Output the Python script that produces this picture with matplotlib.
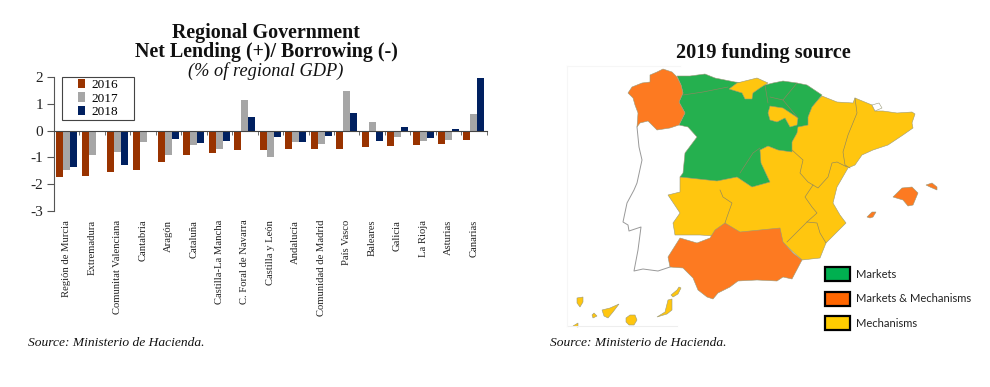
import numpy as np
import matplotlib
matplotlib.use('Agg')
import matplotlib.pyplot as plt
from matplotlib.patches import Polygon, Rectangle

regions = ['Región de Murcia', 'Extremadura', 'Comunitat Valenciana', 'Cantabria', 'Aragón', 'Cataluña',
           'Castilla-La Mancha', 'C. Foral de Navarra', 'Castilla y León', 'Andalucía', 'Comunidad de Madrid',
           'País Vasco', 'Baleares', 'Galicia', 'La Rioja', 'Asturias', 'Canarias']
y2016 = [-1.75, -1.70, -1.55, -1.48, -1.17, -0.90, -0.82, -0.73, -0.72, -0.70, -0.70, -0.67, -0.62, -0.58, -0.55, -0.48, -0.36]
y2017 = [-1.48, -0.90, -0.80, -0.43, -0.90, -0.55, -0.68, 1.15, -0.98, -0.42, -0.48, 1.48, 0.32, -0.23, -0.37, -0.33, 0.62]
y2018 = [-1.35, 0.0, -1.30, -0.05, -0.32, -0.45, -0.37, 0.52, -0.22, -0.42, -0.18, 0.67, -0.38, 0.15, -0.27, 0.05, 2.0]

# map outlines in pixels
yellow = [(822, 96), (837, 102), (853, 103), (855, 98), (872, 105), (875, 111), (883, 111), (897, 113), (912, 112),
          (915, 114), (912, 123), (913, 128), (903, 135), (888, 145), (873, 150), (862, 155), (855, 165), (848, 168),
          (837, 187), (833, 203), (840, 215), (846, 223), (832, 237), (826, 243), (820, 258), (802, 260), (780, 240),
          (700, 235), (675, 235), (673, 223), (680, 213), (668, 195), (680, 192), (680, 177), (770, 140)]
green = [(677, 76), (690, 76), (705, 74), (715, 78), (735, 82), (765, 85), (773, 83), (783, 81), (797, 83), (807, 85),
         (822, 95), (812, 107), (808, 117), (808, 125), (798, 127), (797, 133), (792, 142), (792, 152), (778, 150),
         (768, 146), (760, 150), (761, 163), (768, 178), (770, 182), (752, 187), (737, 177), (717, 181), (680, 177),
         (683, 173), (685, 153), (697, 137), (688, 127), (679, 125), (685, 113), (679, 102), (683, 93), (681, 85)]
galicia = [(650, 75), (657, 72), (663, 69), (672, 72), (677, 77), (681, 85), (683, 93), (679, 102), (685, 113), (679, 125),
           (670, 128), (657, 130), (652, 125), (648, 121), (640, 123), (637, 127), (638, 113), (635, 105), (633, 98),
           (628, 93), (632, 87), (642, 83), (650, 82)]
andalucia = [(680, 238), (697, 243), (710, 238), (715, 230), (725, 223), (740, 232), (760, 230), (780, 228), (783, 242),
             (793, 253), (802, 260), (792, 279), (783, 277), (777, 281), (757, 280), (738, 281), (730, 287), (718, 293),
             (713, 299), (707, 297), (698, 290), (693, 278), (683, 268), (670, 267), (668, 257)]
cantabria = [(729, 89), (737, 83), (757, 78), (768, 83), (760, 88), (753, 93), (752, 99), (745, 99), (742, 93)]
rioja = [(770, 106), (783, 108), (798, 118), (797, 125), (790, 127), (785, 118), (777, 122), (770, 120), (768, 113)]
andorra = [(872, 105), (879, 103), (882, 108), (875, 111)]
mallorca = [(893, 197), (902, 188), (912, 187), (918, 193), (913, 205), (908, 206), (903, 200)]
menorca = [(926, 185), (932, 183), (937, 187), (937, 190), (930, 187)]
ibiza = [(867, 217), (872, 212), (876, 212), (873, 217), (870, 218)]
la_palma = [(577, 298), (583, 297), (583, 302), (580, 307), (577, 303)]
hierro = [(573, 326), (578, 323), (578, 327)]
gomera = [(592, 315), (594, 313), (597, 316), (593, 318)]
tenerife = [(602, 310), (610, 308), (619, 304), (613, 312), (608, 318), (604, 316)]
gran_canaria = [(626, 318), (630, 315), (635, 315), (637, 320), (634, 325), (629, 325), (626, 322)]
fuerteventura = [(657, 317), (665, 312), (668, 300), (672, 299), (672, 310), (667, 314)]
lanzarote = [(671, 295), (677, 290), (679, 287), (681, 288), (678, 294), (673, 297)]
portugal = [(637, 127), (639, 147), (642, 160), (637, 183), (634, 190), (627, 203), (623, 222), (628, 225), (629, 231),
            (641, 227), (638, 250), (634, 271), (643, 269), (658, 271), (670, 267)]
borders = [[(855, 98), (857, 113), (848, 135), (843, 152), (845, 165), (850, 168)],
           [(792, 150), (803, 160), (800, 173), (808, 182), (818, 188), (828, 177), (832, 163), (837, 162), (847, 167)],
           [(813, 185), (805, 197), (812, 207), (817, 213), (807, 222), (787, 242)],
           [(807, 222), (817, 223), (820, 233), (826, 243)],
           [(720, 190), (723, 197), (732, 203), (727, 217), (725, 223)],
           [(683, 95), (703, 92), (728, 87)],
           [(740, 173), (753, 153), (760, 148)],
           [(765, 85), (768, 103)],
           [(783, 100), (797, 83)],
           [(770, 97), (783, 100), (798, 118)]]

plt.rcParams['font.family'] = ['Liberation Serif', 'DejaVu Serif']
plt.rcParams['axes.unicode_minus'] = False

fig = plt.figure(figsize=(9.9, 3.87), dpi=100)

# bar chart
ax = fig.add_axes([54 / 990, 1 - 210.7 / 387, 432.7 / 990, 133.2 / 387])
ax.patch.set_visible(False)
x = np.arange(len(regions))
w = 0.275
ax.bar(x - w, y2016, w, color='#993300', label='2016')
ax.bar(x, y2017, w, color='#A6A6A6', label='2017')
ax.bar(x + w, y2018, w, color='#002060', label='2018')
ax.set_xlim(-0.5, len(regions) - 0.5)
ax.set_ylim(-3, 2)
ax.set_yticks([-3, -2, -1, 0, 1, 2])
ax.tick_params(axis='y', labelsize=11, length=5, width=0.8, color='#555555', pad=3, labelcolor='#222222')
ax.set_xticks(np.arange(len(regions) + 1) - 0.5)
ax.set_xticklabels([])
ax.tick_params(axis='x', which='major', length=3, width=0.6, color='#555555')
ax.set_xticks(x, minor=True)
ax.set_xticklabels(regions, minor=True)
ax.tick_params(axis='x', which='minor', length=0, pad=64, labelrotation=90, labelsize=7.7, labelcolor='#222222')
for lab in ax.get_xticklabels(minor=True):
    lab.set_va('top')
    lab.set_ha('center')
ax.spines['top'].set_visible(False)
ax.spines['right'].set_visible(False)
ax.spines['bottom'].set_position(('data', 0))
ax.spines['bottom'].set_color('#444444')
ax.spines['left'].set_color('#555555')
ax.legend(loc='center', bbox_to_anchor=(98 / 990, 1 - 98.5 / 387), bbox_transform=fig.transFigure,
          fontsize=9.5, frameon=False, handlelength=0.55, handleheight=0.7, labelspacing=0.1,
          borderpad=0, handletextpad=0.5, borderaxespad=0)

# map and all the loose text, in pixel coordinates
m = fig.add_axes([0, 0, 1, 1], zorder=-1)
m.set_xlim(0, 990)
m.set_ylim(387, 0)
m.axis('off')

m.add_patch(Rectangle((62, 77), 72, 43, facecolor='white', edgecolor='#444444', linewidth=0.8))

c_yellow = '#FFC60F'
c_green = '#25B04F'
c_orange = '#FD7A21'
edge = '#9a9a7a'
for shape, col in [(yellow, c_yellow), (green, c_green), (galicia, c_orange), (andalucia, c_orange),
                   (cantabria, c_yellow), (rioja, c_yellow), (andorra, 'white'), (mallorca, c_orange),
                   (menorca, c_orange), (ibiza, c_orange), (la_palma, c_yellow), (hierro, c_yellow),
                   (gomera, c_yellow), (tenerife, c_yellow), (gran_canaria, c_yellow),
                   (fuerteventura, c_yellow), (lanzarote, c_yellow)]:
    m.add_patch(Polygon(shape, closed=True, facecolor=col, edgecolor=edge, linewidth=0.4))
for line in borders:
    m.plot(*zip(*line), color='#8f8660', lw=0.45)
m.plot(*zip(*portugal), color='#999999', lw=0.7)
m.plot([567, 677], [326, 326], color='#eeeeee', lw=0.8)
m.plot([567, 567], [66, 326], color='#f6f6f6', lw=0.8)
m.plot([567, 680], [66, 66], color='#f6f6f6', lw=0.8)

# funding legend
keys = ['Markets', 'Markets & Mechanisms', 'Mechanisms']
key_cols = ['#00B050', '#FF6600', '#FFCC00']
for i, (name, col) in enumerate(zip(keys, key_cols)):
    top = 267 + i * 24.6
    m.add_patch(Rectangle((825, top), 25, 14, facecolor=col, edgecolor='black', linewidth=1.6))
    m.text(856, top + 7, name, family='Lato', fontsize=8, va='center', color='#222222')

m.text(266, 33, 'Regional Government', ha='center', va='center', fontsize=14.4, fontweight='bold', color='#111111')
m.text(266, 52, 'Net Lending (+)/ Borrowing (-)', ha='center', va='center', fontsize=14.4, fontweight='bold', color='#111111')
m.text(266, 71, '(% of regional GDP)', ha='center', va='center', fontsize=13.2, style='italic', color='#111111')
m.text(763, 53, '2019 funding source', ha='center', va='center', fontsize=14.6, fontweight='bold', color='#111111')
m.text(28, 343, 'Source: Ministerio de Hacienda.', va='center', fontsize=9.7, style='italic', color='#111111')
m.text(550, 343, 'Source: Ministerio de Hacienda.', va='center', fontsize=9.7, style='italic', color='#111111')

fig.savefig('out.png', dpi=100)
